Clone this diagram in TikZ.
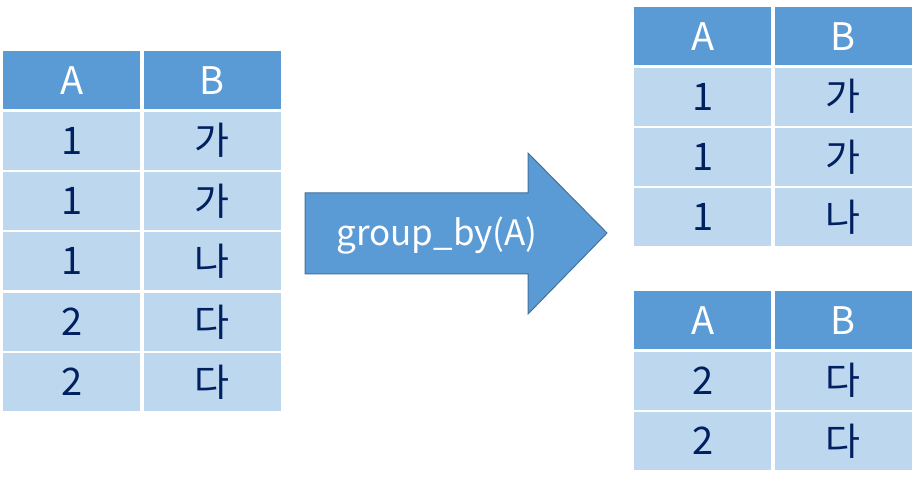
\documentclass[tikz,border=0pt]{standalone}
\usepackage{fontspec}
\setmainfont{Noto Sans CJK KR}
\usetikzlibrary{positioning}

\definecolor{hdrblue}{HTML}{5B9BD5}
\definecolor{cellblue}{HTML}{BDD7EE}
\definecolor{navy}{HTML}{002060}
\definecolor{arrowedge}{HTML}{41719C}

\tikzset{
  cell/.style={minimum width=137pt, minimum height=58pt, inner sep=0pt,
    font=\fontsize{38}{38}\selectfont},
  hdr/.style={cell, fill=hdrblue, text=white},
  val/.style={cell, fill=cellblue, text=navy},
}

\begin{document}
\begin{tikzpicture}[x=1pt, y=-1pt]
    \useasboundingbox (0,0) rectangle (914,486);

    % Input table
    \node[hdr, anchor=north west] (L0a) at (3,51) {A};
    \node[hdr, right=3pt of L0a] (L0b) {B};
    \foreach \a/\b [count=\i, remember=\i as \j (initially 0)] in
        {1/가, 1/가, 1/나, 2/다, 2/다} {
        \node[val, below=2pt of L\j a] (L\i a) {\a};
        \node[val, below=2pt of L\j b] (L\i b) {\b};
    }

    % Grouping arrow
    \draw[line width=1pt, arrowedge, fill=hdrblue]
        (305,193) -- (528,193) -- (528,153) -- (607,233)
        -- (528,314) -- (528,274) -- (305,274) -- cycle;
    \node[text=white, font=\fontsize{35}{35}\selectfont] (op) at (437,236) {group\_by(A)};

    % Group A = 1
    \node[hdr, anchor=north west] (G0a) at (634,7) {A};
    \node[hdr, right=3pt of G0a] (G0b) {B};
    \foreach \a/\b [count=\i, remember=\i as \j (initially 0)] in
        {1/가, 1/가, 1/나} {
        \node[val, below=2pt of G\j a] (G\i a) {\a};
        \node[val, below=2pt of G\j b] (G\i b) {\b};
    }

    % Group A = 2
    \node[hdr, anchor=north west] (H0a) at (634,291) {A};
    \node[hdr, right=3pt of H0a] (H0b) {B};
    \foreach \a/\b [count=\i, remember=\i as \j (initially 0)] in
        {2/다, 2/다} {
        \node[val, below=2pt of H\j a] (H\i a) {\a};
        \node[val, below=2pt of H\j b] (H\i b) {\b};
    }
\end{tikzpicture}
\end{document}
